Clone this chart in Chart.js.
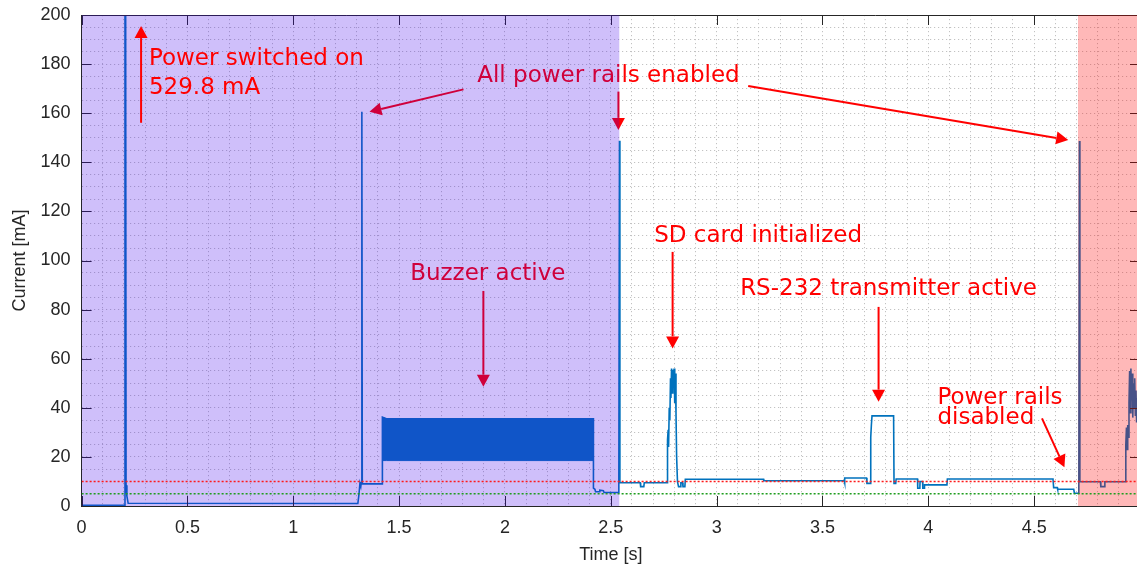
<!DOCTYPE html>
<html lang="en">
<head>
<meta charset="UTF-8">
<title>current trace</title>
<script src="https://cdn.jsdelivr.net/npm/chart.js"></script>
<style>
  body { margin: 0; overflow: hidden; background: #fff; }
</style>
</head>
<body>
<canvas id="canvas" width="1151" height="567"></canvas>
<script>
// measured current trace (time in s, current in mA)
const timeS = [
  0, 0.204, 0.205, 0.210, 0.214, 0.220, 1.305, 1.310, 1.315, 1.319, 1.321, 1.324, 1.326,
  1.421, 1.421, 1.440, 2.418, 2.418, 2.425, 2.428, 2.445, 2.448, 2.465, 2.468, 2.536,
  2.538, 2.541, 2.543, 2.639, 2.641, 2.656, 2.658, 2.766,
  2.768, 2.771, 2.773, 2.776, 2.779, 2.782, 2.784, 2.787, 2.790, 2.793, 2.796, 2.799,
  2.802, 2.805, 2.808, 2.811, 2.815,
  2.820, 2.829, 2.831, 2.839, 2.841, 2.850, 2.852, 3.222, 3.223, 3.603, 3.604, 3.606,
  3.708, 3.710, 3.726, 3.728, 3.731, 3.734, 3.836, 3.838, 3.846, 3.848, 3.949, 3.950,
  3.960, 3.961, 3.973, 3.974, 3.980, 3.982, 4.088, 4.090, 4.589, 4.592, 4.609, 4.611,
  4.687, 4.690, 4.711, 4.714, 4.716, 4.813, 4.815, 4.832, 4.834, 4.931,
  4.933, 4.936, 4.939, 4.942, 4.945, 4.948, 4.951, 4.954, 4.957, 4.960, 4.963, 4.966,
  4.969, 4.972, 4.975, 4.978, 4.981, 4.984, 4.987, 4.990, 4.994, 5.000
];
const currentMA = [
  0.3, 0.3, 529.8, 8.5, 4, 1.1, 1.0, 4.5, 9.3, 8.0, 9.5, 160.6, 9.0,
  9.0, 36.2, 35.5, 35.5, 7.3, 6.8, 5.8, 5.8, 6.4, 6.2, 5.5, 5.5,
  8.5, 148.8, 9.5, 9.5, 7.9, 7.9, 9.5, 9.5,
  27, 31, 24, 40, 35, 52, 44, 56, 46, 55.5, 49, 56,
  42, 54, 38, 20, 9.9,
  7.9, 7.9, 9.5, 9.5, 7.9, 7.9, 10.9, 10.9, 10.3, 10.3, 9.5, 11.4,
  11.4, 9.2, 9.2, 28, 33, 36.7, 36.7, 9.2, 9.2, 11.0, 11.0, 7.2,
  7.2, 10.0, 10.0, 7.2, 7.2, 8.6, 8.6, 11.0, 11.0, 7.5, 7.5, 6.8,
  6.8, 5.2, 5.2, 148.7, 9.9, 9.9, 7.9, 7.9, 9.9, 9.9,
  25, 32, 23, 33, 28, 42, 55, 38, 56, 43, 54, 36,
  50, 40, 52, 37, 47, 34, 44, 32, 40, 36
];

// buzzer square wave envelope
const buzzerT = [1.421, 1.440, 2.418];
const buzzerHigh = [36.2, 35.5, 35.5];
const buzzerLow = [18.5, 18.5, 18.5];

// reference levels
const limitT = [0, 5];
const upperLimit = [10, 10];
const lowerLimit = [5, 5];

// shaded phases
const bootSpan = [0, 2.540];
const offSpan = [4.707, 5];

const xLabels = [0, 0.5, 1, 1.5, 2, 2.5, 3, 3.5, 4, 4.5];
const yLabels = [0, 20, 40, 60, 80, 100, 120, 140, 160, 180, 200];

// annotations: text lines and arrows in data units
const notesUnder = [
  { text: 'All power rails enabled', t: 1.869, mA: 172.7 },
  { text: 'Buzzer active', t: 1.552, mA: 92.1 }
];
const arrowsUnder = [
  [1.804, 169.7, 1.360, 160.6],
  [2.536, 168.8, 2.536, 153.2],
  [3.149, 171.1, 4.661, 149.1],
  [1.898, 87.6, 1.898, 48.6]
];
const notesOver = [
  { text: 'Power switched on', t: 0.318, mA: 179.6 },
  { text: '529.8 mA', t: 0.318, mA: 167.8 },
  { text: 'SD card initialized', t: 2.705, mA: 107.5 },
  { text: 'RS-232 transmitter active', t: 3.111, mA: 85.9 },
  { text: 'Power rails', t: 4.043, mA: 41.4 },
  { text: 'disabled', t: 4.043, mA: 33.2 }
];
const arrowsOver = [
  [0.281, 156.1, 0.281, 195.5],
  [2.792, 103.5, 2.792, 64.2],
  [3.765, 81.1, 3.765, 42.5],
  [4.537, 35.7, 4.643, 15.8]
];

const pts = (xs, ys) => xs.map((v, i) => ({ x: v, y: ys[i] }));

function arrow(ctx, x1, y1, x2, y2) {
  const ang = Math.atan2(y2 - y1, x2 - x1), L = 12, W = 6.5;
  const bx = x2 - L * Math.cos(ang), by = y2 - L * Math.sin(ang);
  ctx.beginPath(); ctx.moveTo(x1, y1); ctx.lineTo(bx, by); ctx.stroke();
  ctx.beginPath(); ctx.moveTo(x2, y2);
  ctx.lineTo(bx + W * Math.sin(ang), by - W * Math.cos(ang));
  ctx.lineTo(bx - W * Math.sin(ang), by + W * Math.cos(ang));
  ctx.closePath(); ctx.fill();
}

function drawNotes(chart, notes, arrows) {
  const { ctx, scales: { x, y } } = chart;
  ctx.save();
  ctx.fillStyle = '#ff0000';
  ctx.strokeStyle = '#ff0000';
  ctx.lineWidth = 2;
  ctx.font = '23px "DejaVu Sans"';
  ctx.textBaseline = 'alphabetic';
  notes.forEach(n => ctx.fillText(n.text, x.getPixelForValue(n.t), y.getPixelForValue(n.mA)));
  arrows.forEach(a => arrow(ctx, x.getPixelForValue(a[0]), y.getPixelForValue(a[1]),
    x.getPixelForValue(a[2]), y.getPixelForValue(a[3])));
  ctx.restore();
}

const shading = {
  id: 'shading',
  afterDatasetDraw(chart, args) {
    if (args.index !== 2) return;
    const { ctx, chartArea: a, scales: { x, y } } = chart;
    // frame and inward ticks
    ctx.save();
    ctx.strokeStyle = '#262626';
    ctx.lineWidth = 1;
    ctx.beginPath();
    ctx.moveTo(a.left, a.top + 0.5); ctx.lineTo(a.right, a.top + 0.5);
    ctx.moveTo(a.right - 0.5, a.top); ctx.lineTo(a.right - 0.5, a.bottom);
    for (let i = 0; i <= 10; i++) {
      const px = Math.round(x.getPixelForValue(i / 2)) + 0.5;
      ctx.moveTo(px, a.bottom); ctx.lineTo(px, a.bottom - 10);
      ctx.moveTo(px, a.top); ctx.lineTo(px, a.top + 10);
    }
    yLabels.forEach(v => {
      const py = Math.round(y.getPixelForValue(v)) + 0.5;
      ctx.moveTo(a.left, py); ctx.lineTo(a.left + 10, py);
      ctx.moveTo(a.right, py); ctx.lineTo(a.right - 10, py);
    });
    ctx.stroke();
    ctx.restore();

    drawNotes(chart, notesUnder, arrowsUnder);

    ctx.save();
    ctx.beginPath();
    ctx.rect(a.left, a.top, a.right - a.left, a.bottom - a.top);
    ctx.clip();
    const x0 = x.getPixelForValue(bootSpan[0]), x1 = x.getPixelForValue(bootSpan[1]);
    ctx.fillStyle = 'rgba(63, 0, 236, 0.25)';
    ctx.fillRect(x0, a.top, x1 - x0, a.bottom - a.top);
    const x2 = x.getPixelForValue(offSpan[0]), x3 = x.getPixelForValue(offSpan[1]);
    ctx.fillStyle = 'rgba(255, 0, 0, 0.28)';
    ctx.fillRect(x2, a.top, x3 - x2, a.bottom - a.top);
    ctx.restore();
  },
  afterDatasetsDraw(chart) {
    drawNotes(chart, notesOver, arrowsOver);
  }
};

const tickFont = { family: '"Liberation Sans", Arial, sans-serif', size: 18 };
const yTickFont = { family: '"Liberation Sans", Arial, sans-serif', size: 18, lineHeight: 0.4 };
const ink = '#262626';
const gridInk = '#c2c2c2';

new Chart(document.getElementById('canvas'), {
  type: 'line',
  data: {
    datasets: [
      { data: pts(buzzerT, buzzerLow), borderColor: '#0072bd', borderWidth: 1, pointRadius: 0, fill: false, order: 4 },
      { data: pts(buzzerT, buzzerHigh), borderColor: '#0072bd', borderWidth: 1, backgroundColor: '#0072bd', pointRadius: 0, fill: '-1', order: 3 },
      { data: pts(timeS, currentMA), borderColor: '#0072bd', borderWidth: 1.6, pointRadius: 0, fill: false, tension: 0, order: 2 },
      { data: pts(limitT, upperLimit), borderColor: '#ff1a1a', borderWidth: 1.5, borderDash: [2, 2], pointRadius: 0, fill: false, order: 1 },
      { data: pts(limitT, lowerLimit), borderColor: '#1e9e1e', borderWidth: 1.5, borderDash: [2, 2], pointRadius: 0, fill: false, order: 1 }
    ]
  },
  options: {
    responsive: false,
    animation: false,
    layout: { padding: { top: 15, right: 0, bottom: 0, left: 0 } },
    plugins: { legend: { display: false }, tooltip: { enabled: false } },
    scales: {
      x: {
        type: 'linear', min: 0, max: 5,
        afterBuildTicks: s => {
          const t = [];
          for (let i = 0; i <= 50; i++) t.push({ value: i / 10 });
          s.ticks = t;
        },
        afterFit: s => { s.height = 61; },
        ticks: {
          autoSkip: false, maxRotation: 0, padding: 11, color: ink, font: tickFont,
          callback: v => xLabels.includes(Math.round(v * 10) / 10) ? String(Math.round(v * 10) / 10) : ''
        },
        grid: { color: gridInk, lineWidth: 1, drawTicks: false },
        border: { display: true, color: ink, width: 1, dash: [1.2, 2.8] },
        title: { display: true, text: 'Time [s]', color: ink, font: tickFont, padding: { top: 0, bottom: 1 } }
      },
      y: {
        min: 0, max: 200,
        afterBuildTicks: s => {
          const t = [];
          for (let i = 0; i <= 40; i++) t.push({ value: i * 5 });
          s.ticks = t;
        },
        afterFit: s => { s.width = 81.6; },
        ticks: {
          autoSkip: false, padding: 11, color: ink, font: yTickFont,
          callback: v => yLabels.includes(v) ? String(v) : ''
        },
        grid: { color: gridInk, lineWidth: 1, drawTicks: false },
        border: { display: true, color: ink, width: 1, dash: [1.2, 2.8] },
        title: { display: true, text: 'Current [mA]', color: ink, font: tickFont, padding: { top: 9, bottom: 0 } }
      }
    }
  },
  plugins: [shading]
});
</script>
</body>
</html>
